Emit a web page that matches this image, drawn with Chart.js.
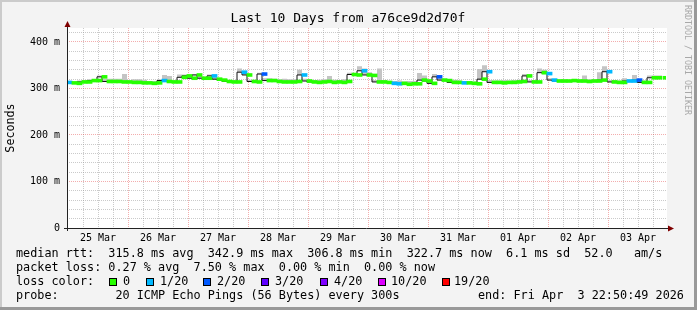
<!DOCTYPE html>
<html>
<head>
<meta charset="utf-8">
<script src="https://cdn.jsdelivr.net/npm/chart.js@4.4.1/dist/chart.umd.min.js"></script>
<style>
  html, body { margin: 0; padding: 0; background: #f3f3f3; }
  #wrap { width: 697px; height: 310px; }
</style>
</head>
<body>
<div id="wrap"><canvas id="grafico" width="697" height="310"></canvas></div>
<script>
// datos (un valor cada 2 horas)
const dayLabels = ['25 Mar', '26 Mar', '27 Mar', '28 Mar', '29 Mar', '30 Mar', '31 Mar', '01 Apr', '02 Apr', '03 Apr'];

const median = [
  313, 312, 311, 314, 314, 317, 317, 325, 315, 315,
  315, 314, 314, 313, 313, 312, 312, 311, 312, 317,
  315, 314, 314, 324, 327, 322, 329, 322, 322, 327,
  320, 318, 315, 314, 314, 335, 329, 315, 314, 331,
  317, 317, 315, 314, 314, 314, 315, 329, 316, 314,
  313, 314, 315, 313, 314, 313, 315, 330, 329, 338,
  329, 328, 314, 314, 313, 311, 310, 311, 309, 310,
  310, 318, 316, 311, 325, 318, 317, 313, 313, 312,
  312, 311, 310, 320, 336, 313, 313, 312, 313, 313,
  314, 315, 327, 314, 314, 334, 332, 318, 316, 316,
  316, 317, 316, 316, 315, 316, 316, 318, 336, 314,
  313, 313, 316, 316, 318, 313, 313, 323, 323, 323
];

const smokeHi = [
  316, 315, 314, 317, 318, 320, 320, 328, 321, 321,
  321, 321, 331, 317, 320, 320, 319, 315, 316, 320,
  329, 327, 318, 330, 330, 326, 331, 326, 325, 330,
  324, 322, 320, 318, 318, 343, 334, 319, 318, 334,
  322, 322, 321, 320, 321, 320, 320, 340, 321, 319,
  318, 319, 320, 327, 319, 318, 320, 334, 333, 348,
  343, 335, 318, 343, 318, 316, 316, 317, 315, 316,
  316, 333, 328, 316, 331, 322, 321, 318, 319, 317,
  316, 316, 315, 342, 350, 318, 317, 317, 318, 317,
  318, 319, 331, 318, 318, 343, 340, 322, 320, 320,
  320, 319, 320, 320, 328, 320, 320, 335, 348, 318,
  318, 317, 322, 320, 329, 317, 317, 328, 328, 328
];

// pings perdidos (de 20) en cada paso
const loss = [
  1, 0, 0, 0, 0, 0, 0, 0, 0, 0,
  0, 0, 0, 0, 0, 0, 0, 0, 0, 1,
  0, 0, 0, 0, 0, 0, 0, 0, 0, 1,
  0, 0, 0, 0, 0, 1, 0, 0, 0, 2,
  0, 0, 0, 0, 0, 0, 0, 1, 0, 0,
  0, 0, 0, 0, 0, 0, 0, 0, 0, 1,
  0, 0, 0, 0, 0, 1, 1, 0, 0, 0,
  0, 0, 0, 0, 2, 0, 0, 0, 0, 1,
  0, 0, 0, 0, 1, 0, 0, 0, 0, 0,
  0, 0, 0, 0, 0, 0, 1, 1, 0, 0,
  0, 0, 0, 0, 0, 0, 0, 0, 1, 0,
  0, 0, 1, 1, 2, 0, 0, 0, 0, 0
];

const lossLevels = [0, 1, 2, 3, 4, 10, 19];
const lossLabels = ['0', '1/20', '2/20', '3/20', '4/20', '10/20', '19/20'];
const lossColors = ['#26ff00', '#00b8ff', '#0059ff', '#5e00ff', '#7e00ff', '#dd00ff', '#ff0000'];

const yMajor = [0, 100, 200, 300, 400];

const statLines = [
  'median rtt:  315.8 ms avg  342.9 ms max  306.8 ms min  322.7 ms now  6.1 ms sd  52.0   am/s',
  'packet loss: 0.27 % avg  7.50 % max  0.00 % min  0.00 % now'
];
const probeText = 'probe:        20 ICMP Echo Pings (56 Bytes) every 300s';
const endText = 'end: Fri Apr  3 22:50:49 2026';
const titulo = 'Last 10 Days from a76ce9d2d70f';

const pasoHoras = 2;
const horas = median.map((_, i) => i * pasoHoras);
const offsetGrid = 0.4; // la grilla no cae justo en el inicio

const MONO = "'DejaVu Sans Mono', monospace";
const colorLoss = n => lossColors[Math.max(0, lossLevels.indexOf(n))];
const GRID = 'rgba(150,150,150,0.5)';
const MGRID = 'rgba(225,50,50,0.4)';

// fondo estilo rrdtool
const fondo = {
  id: 'fondo',
  beforeDraw(chart) {
    const { ctx, width, height, chartArea: a } = chart;
    ctx.save();
    ctx.fillStyle = '#f3f3f3';
    ctx.fillRect(0, 0, width, height);
    ctx.fillStyle = '#cbcbcb';
    ctx.fillRect(0, 0, width, 2);
    ctx.fillRect(0, 0, 2, height);
    ctx.fillStyle = '#999999';
    ctx.fillRect(width - 3, 0, 3, height);
    ctx.fillRect(0, height - 3, width, 3);
    ctx.fillStyle = '#ffffff';
    ctx.fillRect(a.left, a.top, a.right - a.left, a.bottom - a.top);
    ctx.restore();
  }
};

// textos, flechas y leyenda
const extras = {
  id: 'extras',
  afterDraw(chart) {
    const { ctx, chartArea: a } = chart;
    ctx.save();

    // ejes con flechas
    ctx.strokeStyle = '#222';
    ctx.lineWidth = 1;
    ctx.beginPath();
    ctx.moveTo(a.left + 0.5, a.bottom + 3);
    ctx.lineTo(a.left + 0.5, a.top - 3);
    ctx.moveTo(a.left - 3, a.bottom + 0.5);
    ctx.lineTo(a.right + 2, a.bottom + 0.5);
    ctx.stroke();
    ctx.fillStyle = '#7f0000';
    ctx.beginPath();
    ctx.moveTo(a.left + 0.5, a.top - 7);
    ctx.lineTo(a.left - 2.5, a.top - 1);
    ctx.lineTo(a.left + 3.5, a.top - 1);
    ctx.closePath();
    ctx.fill();
    ctx.beginPath();
    ctx.moveTo(a.right + 7, a.bottom + 0.5);
    ctx.lineTo(a.right + 1, a.bottom - 2.5);
    ctx.lineTo(a.right + 1, a.bottom + 3.5);
    ctx.closePath();
    ctx.fill();

    // titulo
    ctx.fillStyle = '#000';
    ctx.font = '13px ' + MONO;
    ctx.textAlign = 'center';
    ctx.textBaseline = 'middle';
    ctx.fillText(titulo, 348, 19);

    // titulo eje y
    ctx.save();
    ctx.translate(11, 128);
    ctx.rotate(-Math.PI / 2);
    ctx.font = '11.7px ' + MONO;
    ctx.fillText('Seconds', 0, 0);
    ctx.restore();

    // marca de agua
    ctx.save();
    ctx.translate(687, 5);
    ctx.rotate(Math.PI / 2);
    ctx.font = '8.3px ' + MONO;
    ctx.fillStyle = '#a8a8a8';
    ctx.textAlign = 'left';
    ctx.fillText('RRDTOOL / TOBI OETIKER', 0, 0);
    ctx.restore();

    // leyenda
    ctx.font = '11.8px ' + MONO;
    ctx.textAlign = 'left';
    ctx.fillStyle = '#000';
    ctx.fillText(statLines[0], 16, 254);
    ctx.fillText(statLines[1], 16, 268);
    ctx.fillText('loss color:', 16, 282);
    const boxX = [109, 146, 203, 261, 320, 378, 442];
    const txtX = [123, 160, 217, 275, 334, 391, 454];
    lossLabels.forEach((lab, i) => {
      ctx.fillStyle = lossColors[i];
      ctx.fillRect(boxX[i], 278, 8, 8);
      ctx.strokeStyle = '#000';
      ctx.strokeRect(boxX[i] + 0.5, 278.5, 7, 7);
      ctx.fillStyle = '#000';
      ctx.fillText(lab, txtX[i], 282);
    });
    ctx.fillText(probeText, 16, 296);
    ctx.fillText(endText, 478, 296);

    ctx.restore();
  }
};

const ctx = document.getElementById('grafico');
const ultimo = median.length - 1;

new Chart(ctx, {
  type: 'line',
  data: {
    datasets: [
      // tramos horizontales de la mediana, color segun perdida
      {
        label: 'median',
        data: median.map((v, i) => ({ x: horas[i] + pasoHoras / 2, y: v })),
        showLine: false,
        pointStyle: 'line',
        pointRadius: c => c.dataIndex === ultimo ? 1.5 : 2.9,
        pointBorderWidth: 3.6,
        pointBorderColor: c => colorLoss(loss[c.dataIndex]),
        fill: false
      },
      // escalones finos en negro
      {
        label: 'median step',
        data: median.map((v, i) => ({ x: horas[i], y: v })),
        stepped: 'after',
        borderWidth: 1,
        borderColor: '#111',
        pointRadius: 0,
        fill: false
      },
      {
        label: 'smoke',
        data: smokeHi.map((v, i) => ({ x: horas[i], y: v })),
        stepped: 'after',
        borderWidth: 0,
        pointRadius: 0,
        backgroundColor: '#c4c4c4',
        fill: 1
      }
    ]
  },
  options: {
    responsive: false,
    animation: false,
    devicePixelRatio: 1,
    layout: { padding: { left: 0, right: 30, top: 28, bottom: 0 } },
    plugins: { legend: { display: false }, tooltip: { enabled: false } },
    scales: {
      x: {
        type: 'linear',
        min: 0,
        max: 240,
        afterBuildTicks: s => {
          const t = [];
          for (let k = 0; offsetGrid + 6 * k < 240; k++) t.push({ value: offsetGrid + 6 * k });
          s.ticks = t;
        },
        afterFit: s => { s.height = 82; },
        grid: {
          drawTicks: false,
          color: c => c.index === 0 ? 'rgba(0,0,0,0)' : (c.index % 4 === 0 ? MGRID : GRID)
        },
        border: { display: false, dash: [1, 1] },
        ticks: {
          autoSkip: false,
          maxRotation: 0,
          padding: 4,
          color: '#000',
          font: { family: MONO, size: 10 },
          callback: (v, i) => i % 4 === 2 ? dayLabels[(i - 2) / 4] : ''
        }
      },
      y: {
        min: 0,
        max: 430,
        afterBuildTicks: s => {
          const t = [];
          for (let v = 0; v <= 420; v += 20) t.push({ value: v });
          s.ticks = t;
        },
        afterFit: s => { s.width = 67; },
        grid: {
          drawTicks: false,
          color: c => c.tick.value === 0 ? 'rgba(0,0,0,0)' : (yMajor.includes(c.tick.value) ? MGRID : GRID)
        },
        border: { display: false, dash: [1, 1] },
        ticks: {
          autoSkip: false,
          padding: 7,
          color: '#000',
          font: { family: MONO, size: 10 },
          callback: v => yMajor.includes(v) ? (v === 0 ? '0' : v + ' m') : ''
        }
      }
    }
  },
  plugins: [fondo, extras]
});
</script>
</body>
</html>
